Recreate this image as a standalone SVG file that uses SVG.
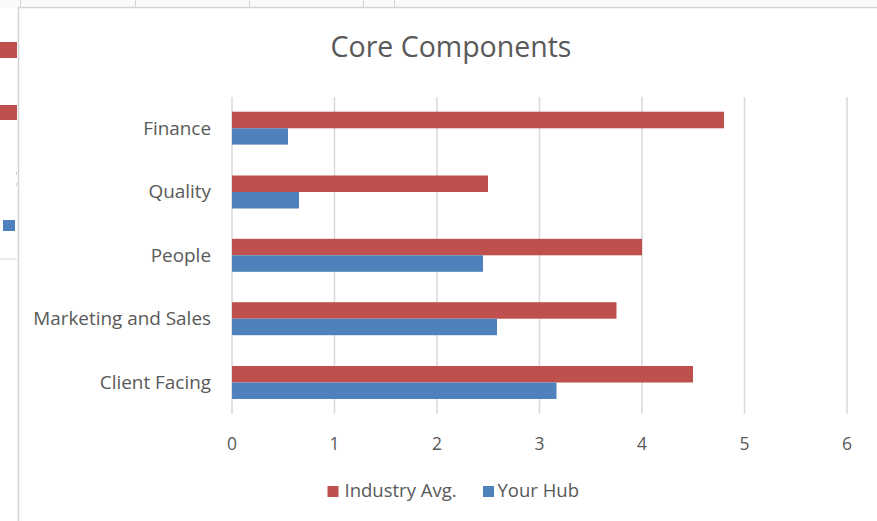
<svg xmlns="http://www.w3.org/2000/svg" width="877" height="521" viewBox="0 0 877 521">
<style>
.bg-line{stroke:#d4d4d4;stroke-width:1;fill:none}
.grid{stroke:#d9d9d9;stroke-width:1.5}
.red{fill:#c0504d}
.blue{fill:#4f81bd}
.txt{font-family:"Open Sans","Noto Sans","Liberation Sans",sans-serif;fill:#595959}
.cat{font-size:18.9px;text-anchor:end}
.tick{font-size:17.5px;text-anchor:middle}
.leg{font-size:18.5px}
.title{font-size:28.5px;text-anchor:middle}
</style>
<rect x="0" y="0" width="877" height="521" fill="#ffffff"/>
<g id="background-sheet">
  <rect x="0" y="0" width="877" height="7.5" fill="#fafafa"/>
  <line class="bg-line" x1="20.5" y1="0" x2="20.5" y2="7.5"/>
  <line class="bg-line" x1="135.5" y1="0" x2="135.5" y2="7.5"/>
  <line class="bg-line" x1="249.5" y1="0" x2="249.5" y2="7.5"/>
  <line class="bg-line" x1="363.5" y1="0" x2="363.5" y2="7.5"/>
  <line class="bg-line" x1="394.5" y1="0" x2="394.5" y2="7.5"/>
  <rect class="red" x="0" y="42" width="17" height="16"/>
  <rect class="red" x="0" y="105" width="17" height="15"/>
  <rect class="blue" x="3" y="220" width="12" height="11"/>
  <line class="bg-line" x1="0" y1="259" x2="17" y2="259"/>
  <line class="bg-line" x1="16.5" y1="172" x2="16.5" y2="175"/>
  <line class="bg-line" x1="16.5" y1="183" x2="16.5" y2="186"/>
</g>
<g id="chart-frame">
  <rect x="18.5" y="7.5" width="870" height="520" fill="#ffffff" stroke="#d4d4d4" stroke-width="1.5"/>
</g>
<text id="title" class="txt title" x="451" y="57">Core Components</text>
<g id="gridlines">
  <line class="grid" x1="232" y1="97" x2="232" y2="414"/>
  <line class="grid" x1="334.5" y1="97" x2="334.5" y2="414"/>
  <line class="grid" x1="437" y1="97" x2="437" y2="414"/>
  <line class="grid" x1="539.5" y1="97" x2="539.5" y2="414"/>
  <line class="grid" x1="642" y1="97" x2="642" y2="414"/>
  <line class="grid" x1="744.5" y1="97" x2="744.5" y2="414"/>
  <line class="grid" x1="847" y1="97" x2="847" y2="414"/>
</g>
<g id="x-axis-labels">
  <text class="txt tick" x="232" y="450">0</text>
  <text class="txt tick" x="334.5" y="450">1</text>
  <text class="txt tick" x="437" y="450">2</text>
  <text class="txt tick" x="539.5" y="450">3</text>
  <text class="txt tick" x="642" y="450">4</text>
  <text class="txt tick" x="744.5" y="450">5</text>
  <text class="txt tick" x="847" y="450">6</text>
</g>
<g id="finance">
  <text class="txt cat" x="211" y="134.5">Finance</text>
  <rect class="red" x="232" y="111.7" width="492" height="16.6"/>
  <rect class="blue" x="232" y="128.3" width="56" height="16.3"/>
</g>
<g id="quality">
  <text class="txt cat" x="211" y="198">Quality</text>
  <rect class="red" x="232" y="175.5" width="256" height="16.5"/>
  <rect class="blue" x="232" y="192" width="67" height="16.5"/>
</g>
<g id="people">
  <text class="txt cat" x="211" y="261.5">People</text>
  <rect class="red" x="232" y="238.8" width="410" height="16.5"/>
  <rect class="blue" x="232" y="255.3" width="251" height="16.5"/>
</g>
<g id="marketing-and-sales">
  <text class="txt cat" x="211" y="325">Marketing and Sales</text>
  <rect class="red" x="232" y="302.2" width="384.5" height="16.5"/>
  <rect class="blue" x="232" y="318.7" width="265" height="16.5"/>
</g>
<g id="client-facing">
  <text class="txt cat" x="211" y="388.5">Client Facing</text>
  <rect class="red" x="232" y="366" width="461" height="16.5"/>
  <rect class="blue" x="232" y="382.5" width="324.5" height="16.5"/>
</g>
<g id="legend">
  <rect class="red" x="327.5" y="486" width="11" height="11"/>
  <text class="txt leg" x="344.5" y="497">Industry Avg.</text>
  <rect class="blue" x="483" y="486" width="11" height="11"/>
  <text class="txt leg" x="497.5" y="497">Your Hub</text>
</g>
</svg>
